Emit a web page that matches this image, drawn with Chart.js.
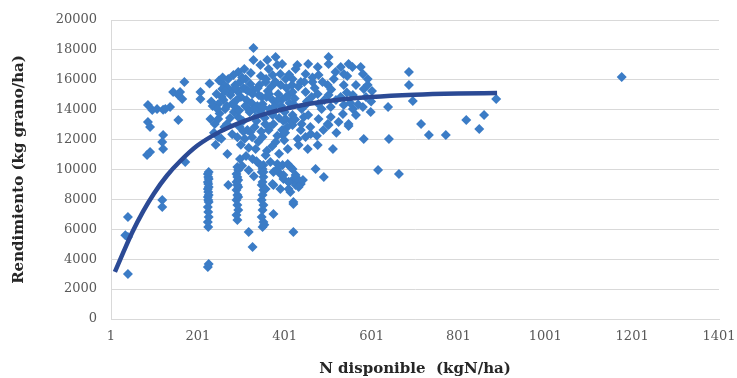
<!DOCTYPE html>
<html>
<head>
<meta charset="utf-8">
<script src="https://cdn.jsdelivr.net/npm/chart.js@4.4.0/dist/chart.umd.min.js"></script>
<style>
  html, body { margin: 0; padding: 0; background: #fff; }
</style>
</head>
<body>
<canvas id="grafico" width="737" height="378"></canvas>
<script>
// ticks de los ejes
const xTicks = [1, 201, 401, 601, 801, 1001, 1201, 1401];
const yTicks = [0, 2000, 4000, 6000, 8000, 10000, 12000, 14000, 16000, 18000, 20000];

// N disponible (kgN/ha) de cada parcela
const nDisponible = [
  // zona izquierda
  40, 40, 34, 40, 119, 119, 84, 91, 86, 86, 91, 107, 121, 137, 121, 119, 121, 144, 156, 165,
  160, 170, 156, 172, 207, 207, 96, 126,
  // columna ~201
  224, 226, 225, 224, 226, 225, 224, 226, 225, 224, 226, 225, 224, 226, 225, 224, 226, 225, 224, 226,
  // columna ~290
  292, 290, 294, 292, 290, 294, 292, 290, 294, 292, 290, 294, 292, 290, 294, 292, 271,
  // columna ~350
  350, 352, 348, 350, 352, 348, 350, 352, 348, 350, 352, 348, 350, 352, 318, 327, 354,
  // grupo bajo 375-490
  375, 384, 396, 408, 414, 391, 398, 375, 419, 426, 431, 438, 443, 410, 433, 375, 421, 421, 472, 491,
  419, 426, 410,
  // nube central
  329, 329, 361, 380, 384, 364, 373, 391, 357, 380, 403, 294, 283, 271, 260, 257, 311, 322, 311, 294,
  287, 329, 341, 276, 260, 248, 264, 287, 317, 350, 373, 396, 410, 230, 248, 294, 334, 373, 403,
  502, 502, 477, 479, 530, 557, 576, 581, 518, 537, 514, 426, 449, 419, 438, 465, 500, 537, 565, 583,
  419, 449, 477, 502, 530, 558, 588, 421, 449, 479, 507, 537, 558, 581, 419, 445, 479, 507, 535, 565,
  502, 525, 548,
  322, 334, 350, 364, 380, 396, 408, 327, 345, 352, 368, 384, 398, 410, 373, 357, 391, 248, 269,
  419, 438, 431, 449, 461, 477, 454, 433, 512, 583, 500, 548, 421, 414,
  300, 306, 313, 320, 327, 336, 343, 348, 355, 362, 366, 375, 386, 393, 401, 405, 412, 284, 290, 297,
  305, 315, 325, 332, 338, 345, 359, 366, 370, 378, 388, 395, 407, 415, 275, 268, 279, 262, 240, 235,
  244, 251, 238, 242, 255, 300, 309, 318, 340, 360, 372, 388, 400, 357, 336, 303, 318, 330, 298, 312,
  455, 463, 470, 486, 492, 508, 519, 544, 552, 570, 460, 475, 490, 520, 465, 488, 545, 592, 600, 602,
  548, 455, 430, 395, 345, 308, 298, 270, 256, 250, 232, 228,
  282, 288, 296, 303, 310, 316, 323, 331, 339, 346, 352, 358, 365, 372, 379, 385, 392, 398, 404, 411,
  418, 424, 432, 440, 446, 452, 258, 264, 246, 268, 280, 292, 306, 326, 347, 356, 384, 402, 425, 440,
  // zona derecha
  592, 687, 687, 696, 639, 599, 715, 733, 772, 819, 860, 849, 888, 641, 616, 664, 1177
];

// Rendimiento (kg grano/ha), mismo orden
const rendimiento = [
  3010, 5490, 5600, 6820, 7960, 7490, 10970, 11170, 13180, 14320, 12840, 14050, 14000, 14180, 12310, 11840, 11370, 15190, 14990, 14720,
  15190, 15860, 13310, 10500, 15190, 14720, 13980, 14050,
  3480, 3680, 6150, 6490, 6820, 7160, 7490, 7830, 7960, 8160, 8300, 8500, 8700, 8830, 9030, 9170, 9370, 9500, 9700, 9830,
  6620, 6960, 7290, 7630, 7960, 8160, 8300, 8630, 8830, 8960, 9170, 9300, 9500, 9700, 9970, 10170, 8960,
  6150, 6490, 6820, 7290, 7630, 7960, 8300, 8630, 8960, 9170, 9500, 9830, 10040, 10300, 5820, 4820, 6300,
  9830, 10370, 10300, 10370, 10170, 9700, 9370, 8960, 9300, 8960, 9370, 9030, 9300, 8700, 8830, 7020, 7690, 5820, 10030, 9500,
  10040, 9630, 9170,
  18130, 17330, 17330, 17530, 16990, 16730, 16320, 16390, 15860, 15860, 16060, 16520, 16320, 16060, 15720, 15390, 16060, 15720, 15390, 15190,
  15650, 15320, 14990, 14990, 14650, 14380, 14050, 14180, 14050, 14380, 14650, 14720, 14990, 13380, 13380, 13510, 13510, 13650, 13380,
  17530, 17060, 16860, 16320, 16860, 16860, 16860, 16390, 16520, 16390, 16060, 16730, 16390, 16060, 15860, 15860, 15650, 15650, 15650, 15390,
  15190, 15190, 15050, 14990, 14850, 14990, 14850, 14380, 14320, 14380, 14180, 14320, 14050, 14180, 13650, 13510, 13380, 13510, 13710, 13650,
  12980, 13180, 12910,
  12510, 11370, 12180, 12640, 11840, 12310, 11370, 10700, 10300, 9830, 10500, 10040, 9630, 9170, 9030, 8700, 8700, 12180, 11040,
  12980, 12640, 12040, 12180, 12380, 11640, 11370, 11640, 11370, 12040, 13050, 13050, 7830, 8500,
  14850, 15450, 14650, 13850, 15050, 13250, 15650, 14850, 13450, 15250, 14050, 13050, 15050, 14250, 13850, 15450, 14450, 13850, 14650, 12850,
  13250, 12650, 14450, 12850, 14250, 13850, 14850, 12850, 15550, 14250, 13450, 12650, 12850, 13250, 13450, 14250, 15250, 12850, 13050, 14250,
  15050, 13750, 12450, 11650, 12050, 11650, 12050, 11450, 11850, 11250, 11550, 11050, 11950, 10950, 10550, 10250, 9950, 9550, 10700, 10900,
  13650, 14850, 15450, 14050, 14650, 15350, 14650, 15150, 14450, 14350, 12850, 12250, 12650, 12450, 16150, 15850, 16250, 15650, 14550, 15250,
  17060, 17060, 16990, 17060, 16990, 16730, 15850, 15450, 14850, 15950, 14550, 15750,
  14450, 15450, 13950, 16150, 14250, 15250, 16450, 14050, 15450, 16250, 14150, 16050, 15050, 13750, 15850, 14650, 15650, 13250, 14850, 16350,
  15650, 14750, 15550, 14050, 15850, 14550, 16150, 15250, 14050, 13050, 12350, 12150, 12550, 12150, 12550, 13050, 12250, 12450, 13350, 13050,
  16060, 16520, 15650, 14580, 14180, 13850, 13050, 12310, 12310, 13310, 13650, 12710, 14720, 12040, 9970, 9700, 16190
];

// curva de ajuste
const curvaN = [10, 30, 50, 75, 100, 130, 160, 200, 250, 300, 360, 440, 520, 600, 700, 800, 890];
const curvaRend = [3150, 4500, 5800, 7200, 8400, 9600, 10550, 11600, 12500, 13150, 13750, 14300, 14650, 14850, 15000, 15080, 15120];

const puntos = nDisponible.map((n, i) => ({ x: n, y: rendimiento[i] }));
const curva = curvaN.map((n, i) => ({ x: n, y: curvaRend[i] }));

const fuente = "'DejaVu Serif', 'Liberation Serif', serif";
const gris = "#D9D9D9";

const ctx = document.getElementById("grafico").getContext("2d");
new Chart(ctx, {
  type: "scatter",
  data: {
    datasets: [
      {
        type: "line",
        label: "Ajuste",
        data: curva,
        borderColor: "#2B4A95",
        borderWidth: 4.5,
        pointRadius: 0,
        cubicInterpolationMode: "monotone",
        fill: false,
        order: 0,
      },
      {
        label: "Rendimiento",
        data: puntos,
        pointStyle: "rectRot",
        pointRadius: 5,
        backgroundColor: "#3B7CC6",
        borderWidth: 0,
        order: 1,
      },
    ],
  },
  options: {
    responsive: false,
    animation: false,
    layout: { padding: { left: 10, right: 18, top: 20, bottom: 0 } },
    plugins: { legend: { display: false }, tooltip: { enabled: false } },
    scales: {
      x: {
        type: "linear",
        min: 1,
        max: 1401,
        afterBuildTicks: (s) => { s.ticks = xTicks.map((v) => ({ value: v })); },
        afterFit: (s) => {
          s.height = 59;
          s.paddingLeft = 0;
          s.paddingRight = 0;
        },
        grid: { display: false, drawTicks: false },
        border: { display: true, color: gris },
        ticks: {
          padding: 10,
          color: "#595959",
          font: { family: fuente, size: 13 },
          callback: (v) => String(v),
        },
        title: {
          display: true,
          text: "N disponible  (kgN/ha)",
          color: "#262626",
          padding: 0,
          font: { family: fuente, size: 15, weight: "bold" },
        },
      },
      y: {
        type: "linear",
        min: 0,
        max: 20000,
        afterBuildTicks: (s) => { s.ticks = yTicks.map((v) => ({ value: v })); },
        afterFit: (s) => {
          s.width = 101;
          s.paddingTop = 0;
          s.paddingBottom = 0;
        },
        grid: { color: gris, drawTicks: false },
        border: { display: true, color: gris },
        ticks: {
          padding: 14,
          color: "#595959",
          font: { family: fuente, size: 13 },
          callback: (v) => String(v),
        },
        title: {
          display: true,
          text: "Rendimiento (kg grano/ha)",
          color: "#262626",
          padding: 0,
          font: { family: fuente, size: 15, weight: "bold" },
        },
      },
    },
  },
});
</script>
</body>
</html>
